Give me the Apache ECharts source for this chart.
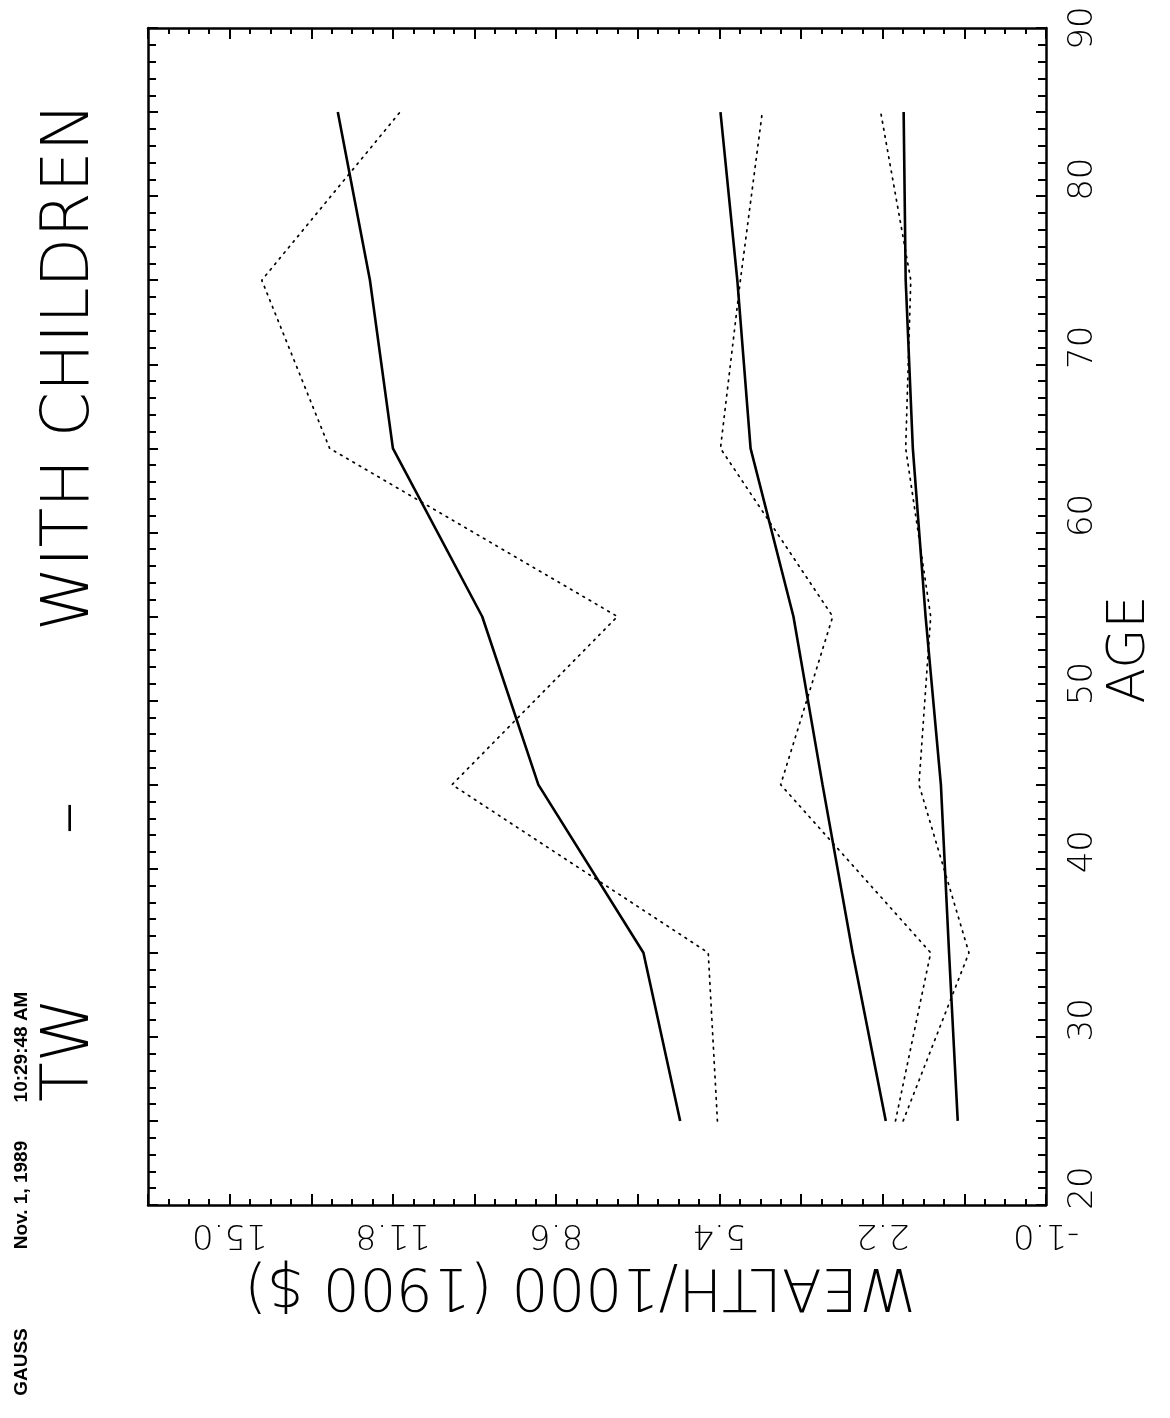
<!DOCTYPE html>
<html>
<head>
<meta charset="utf-8">
<script src="https://cdn.jsdelivr.net/npm/echarts@6/dist/echarts.min.js"></script>
<style>
html,body{margin:0;padding:0;background:#fff;}
#chart{width:1170px;height:1418px;}
</style>
</head>
<body>
<div id="chart"></div>
<script>
// Data (wealth in thousands of 1900 $, by age)
const ages = [25, 35, 45, 55, 65, 75, 85];
const solidTop = [6.17, 6.89, 8.95, 10.05, 11.80, 12.25, 12.88];
const dotTop   = [5.44, 5.62, 10.64, 7.40, 13.04, 14.37, 11.66];
const solidMid = [2.14, 2.79, 3.38, 3.95, 4.79, 5.05, 5.38];
const dotMid   = [1.95, 1.26, 4.20, 3.18, 5.38, 4.99, 4.56];
const solidLow = [0.73, 0.90, 1.06, 1.36, 1.61, 1.75, 1.79];
const dotLow   = [1.80, 0.51, 1.49, 1.26, 1.75, 1.65, 2.24];
const wealthTicks = ['-1.0', '2.2', '5.4', '8.6', '11.8', '15.0'];
const ageTicks = ['20', '30', '40', '50', '60', '70', '80', '90'];

const titleWords = ['TW', '\u2013', 'WITH', 'CHILDREN'];
const xName = 'WEALTH/1000 (1900 $)';
const yName = 'AGE';
const header = ['GAUSS', 'Nov. 1, 1989', '10:29:48 AM'];

const FONT = 'DejaVu Sans';
const chart = echarts.init(document.getElementById('chart'), null, {renderer: 'canvas'});

function pairs(vals) { return ages.map((a, i) => [vals[i], a]); }

function wealthLabel(v) {
  const k = Math.round((v + 1) / 1.6);
  if (k % 2 === 0 && k / 2 < wealthTicks.length) return wealthTicks[k / 2];
  return '';
}
function ageLabel(v) {
  const n = Math.round(v);
  const s = String(n);
  if (n % 10 !== 0 || ageTicks.indexOf(s) < 0) return '';
  return (s === ageTicks[ageTicks.length - 1]) ? '{t|' + s + '}' : '{s|' + s + '}';
}

const lineCol = '#000';
const labelFont = {fontFamily: FONT, fontSize: 34, color: '#000', fontWeight: 200};
const axisCommonX = {
  type: 'value', min: -1, max: 16.6, interval: 1.6, inverse: true,
  axisLine: {show: true, onZero: false, lineStyle: {color: lineCol, width: 2.5}},
  axisTick: {show: true, inside: true, length: 11, lineStyle: {color: lineCol, width: 2}},
  minorTick: {show: true, splitNumber: 4, length: 6, lineStyle: {color: lineCol, width: 2}},
  splitLine: {show: false}, minorSplitLine: {show: false}
};
const axisCommonY = {
  type: 'value', min: 20, max: 90, interval: 5,
  axisLine: {show: true, onZero: false, lineStyle: {color: lineCol, width: 2.5}},
  axisTick: {show: true, inside: true, length: 10, lineStyle: {color: lineCol, width: 2}},
  minorTick: {show: true, splitNumber: 5, length: 8, lineStyle: {color: lineCol, width: 2}},
  splitLine: {show: false}, minorSplitLine: {show: false}
};

const solidStyle = {color: lineCol, width: 2.6, type: 'solid'};
const dotStyle = {color: lineCol, width: 1.7, type: [1.7, 5.5], cap: 'round'};

function mk(name, vals, style) {
  return {
    name: name, type: 'line', data: pairs(vals), xAxisIndex: 0, yAxisIndex: 0,
    symbol: 'none', lineStyle: style, animation: false, silent: true, z: 3
  };
}

const titleCenters = [1050, 818, 545, 270];
const headerCenters = [1362, 1195, 1047];

const graphics = [];
titleWords.forEach((w, i) => {
  graphics.push({type: 'text', x: 71, y: titleCenters[i], rotation: Math.PI / 2,
    style: {text: w, fontFamily: FONT, fontSize: 65, fontWeight: 200, fill: '#000',
      textAlign: 'center', textVerticalAlign: 'middle'}});
});
header.forEach((h, i) => {
  graphics.push({type: 'text', x: 22, y: headerCenters[i], rotation: Math.PI / 2,
    style: {text: h, fontFamily: 'Liberation Sans', fontSize: 19, fontWeight: 'bold', fill: '#000',
      textAlign: 'center', textVerticalAlign: 'middle'}});
});

chart.setOption({
  backgroundColor: '#fff',
  animation: false,
  grid: {left: 148, right: 124, top: 28, bottom: 213},
  xAxis: [
    Object.assign({}, axisCommonX, {
      position: 'bottom',
      name: xName, nameLocation: 'middle', nameGap: 50, nameRotate: 180, nameMoveOverlap: false,
      nameTextStyle: {fontFamily: FONT, fontSize: 58, color: '#000', fontWeight: 200,
        padding: [0, 0, 0, 34]},
      axisLabel: Object.assign({show: true, rotate: 180, margin: 12, formatter: wealthLabel,
        showMinLabel: true, showMaxLabel: true}, labelFont)
    }),
    Object.assign({}, axisCommonX, {position: 'top', axisLabel: {show: false}})
  ],
  yAxis: [
    Object.assign({}, axisCommonY, {
      position: 'right',
      name: yName, nameLocation: 'middle', nameGap: 58, nameRotate: 90, nameMoveOverlap: false,
      nameTextStyle: {fontFamily: FONT, fontSize: 52, color: '#000', fontWeight: 200,
        padding: [0, 66, 0, 0]},
      axisLabel: Object.assign({show: true, rotate: 90, margin: 20, formatter: ageLabel,
        showMinLabel: true, showMaxLabel: true,
        rich: {
          s: Object.assign({padding: [0, 0, 0, 34]}, labelFont),
          t: Object.assign({}, labelFont)
        }}, labelFont)
    }),
    Object.assign({}, axisCommonY, {position: 'left', axisLabel: {show: false}})
  ],
  series: [
    mk('Top fitted', solidTop, solidStyle),
    mk('Top actual', dotTop, dotStyle),
    mk('Middle fitted', solidMid, solidStyle),
    mk('Middle actual', dotMid, dotStyle),
    mk('Low fitted', solidLow, solidStyle),
    mk('Low actual', dotLow, dotStyle)
  ],
  graphic: graphics
});
</script>
</body>
</html>
